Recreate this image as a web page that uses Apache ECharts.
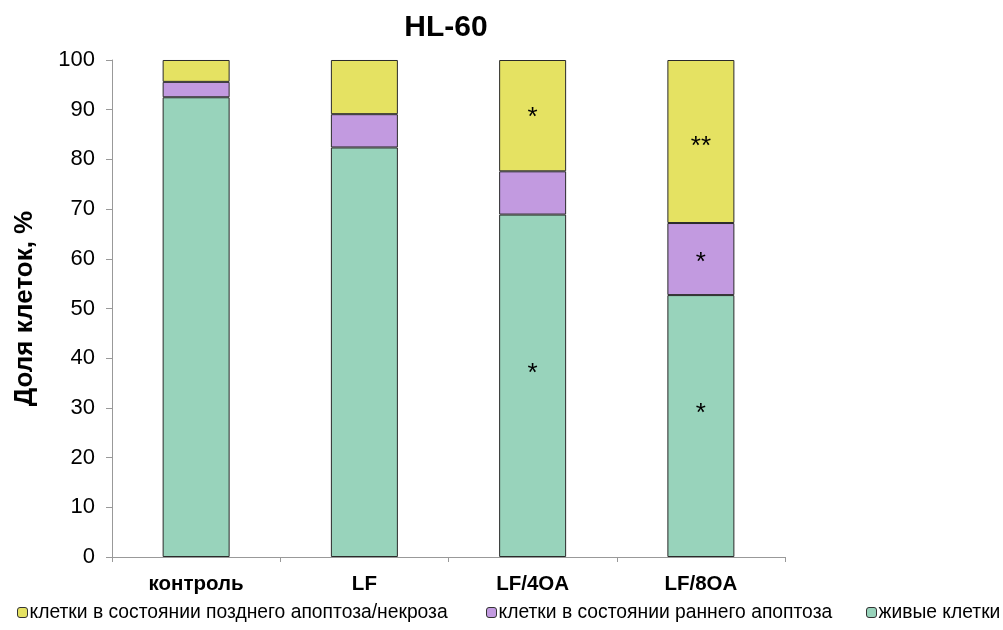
<!DOCTYPE html>
<html>
<head>
<meta charset="utf-8">
<script src="https://cdn.jsdelivr.net/npm/echarts@6/dist/echarts.min.js"></script>
<style>
  html, body { margin: 0; padding: 0; background: #fff; }
  #chart { width: 1003px; height: 630px; }
</style>
</head>
<body>
<div id="chart"></div>
<script>
// Cell populations of HL-60 by treatment group, % of cells
const categories = ['контроль', 'LF', 'LF/4OA', 'LF/8OA'];
const yTicks = [0, 10, 20, 30, 40, 50, 60, 70, 80, 90, 100];

const liveCells = [92.5, 82.4, 68.9, 52.7];
const earlyApoptosis = [3.1, 6.7, 8.7, 14.5];
const lateApoptosis = [4.4, 10.9, 22.4, 32.8];

// significance marks per segment
const liveMarks = ['', '', '*', '*'];
const earlyMarks = ['', '', '', '*'];
const lateMarks = ['', '', '*', '**'];

const names = {
  late: 'клетки в состоянии позднего апоптоза/некроза',
  early: 'клетки в состоянии раннего апоптоза',
  live: 'живые клетки'
};

const colors = { live: '#98D3BB', early: '#C29AE0', late: '#E5E262' };
const font = 'Liberation Sans, Arial, sans-serif';

const chart = echarts.init(document.getElementById('chart'));

function seriesOf(name, values, marks, color, labelOffsets) {
  return {
    name: name,
    type: 'bar',
    stack: 'total',
    barWidth: 67,
    itemStyle: { color: color, borderColor: '#2a2a2a', borderWidth: 1 },
    data: values.map((v, i) => ({
      value: v,
      label: {
        show: marks[i] !== '',
        formatter: marks[i],
        position: 'inside',
        offset: labelOffsets[i],
        color: '#000',
        fontSize: 26,
        fontFamily: font
      }
    })),
    emphasis: { disabled: true },
    animation: false
  };
}

const legendBase = {
  bottom: 3,
  itemWidth: 10,
  itemHeight: 10,
  itemGap: 0,
  textStyle: {
    fontFamily: font,
    fontSize: 19.3,
    color: '#000',
    padding: [0, 0, 0, -3]
  },
  selectedMode: false
};

chart.setOption({
  backgroundColor: '#fff',
  title: {
    text: 'HL-60',
    left: 441,
    textAlign: 'center',
    top: 8,
    textStyle: { fontFamily: font, fontWeight: 'bold', fontSize: 30, color: '#000' }
  },
  legend: [
    Object.assign({}, legendBase, { left: 12, data: [{ name: names.late, itemStyle: { borderColor: '#333', borderWidth: 1 } }] }),
    Object.assign({}, legendBase, { left: 481, data: [{ name: names.early, itemStyle: { borderColor: '#333', borderWidth: 1 } }] }),
    Object.assign({}, legendBase, { left: 861, data: [{ name: names.live, itemStyle: { borderColor: '#333', borderWidth: 1 } }] })
  ],
  grid: { left: 112, right: 218, top: 60, bottom: 73, containLabel: false, outerBoundsMode: 'none' },
  xAxis: {
    type: 'category',
    data: categories,
    axisLine: { lineStyle: { color: '#999', width: 1 } },
    axisTick: { show: true, alignWithLabel: false, length: 5, lineStyle: { color: '#999' } },
    axisLabel: {
      color: '#000',
      fontWeight: 'bold',
      fontSize: 20.5,
      margin: 17,
      fontFamily: font
    }
  },
  yAxis: {
    type: 'value',
    min: yTicks[0],
    max: yTicks[yTicks.length - 1],
    interval: yTicks[1] - yTicks[0],
    name: 'Доля клеток, %',
    nameLocation: 'middle',
    nameGap: 74,
    nameTextStyle: { fontFamily: font, fontWeight: 'bold', fontSize: 26, color: '#000' },
    axisLine: { show: true, lineStyle: { color: '#999', width: 1 } },
    axisTick: { show: true, length: 6, lineStyle: { color: '#999' } },
    splitLine: { show: false },
    axisLabel: { color: '#000', fontSize: 22, margin: 17, fontFamily: font }
  },
  series: [
    seriesOf(names.live, liveCells, liveMarks, colors.live, [[0, 0], [0, 0], [0, -12], [0, -12]]),
    seriesOf(names.early, earlyApoptosis, earlyMarks, colors.early, [[0, 0], [0, 0], [0, 0], [0, 4]]),
    seriesOf(names.late, lateApoptosis, lateMarks, colors.late, [[0, 0], [0, 0], [0, 2], [0, 5]])
  ]
});
</script>
</body>
</html>
